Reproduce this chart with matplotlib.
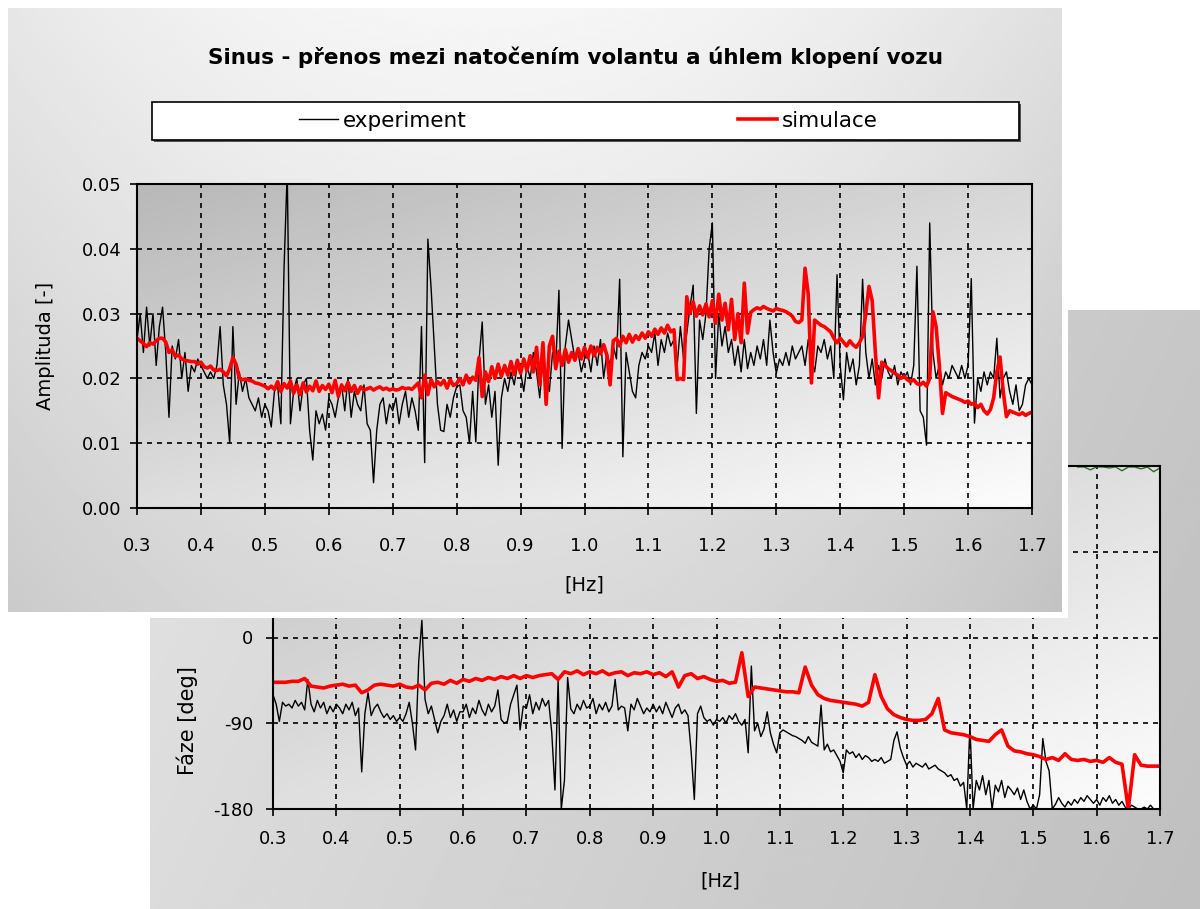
import numpy as np
import matplotlib.pyplot as plt
from matplotlib.patches import Rectangle

plt.rcParams['font.family'] = ['DejaVu Sans']

# frekvence (krok 0.005 Hz) a hodnoty
freq = np.round(0.3 + 0.005 * np.arange(281), 3)

amp_exp = [
    0.026, 0.030, 0.024, 0.031, 0.025, 0.030, 0.022, 0.028, 0.031, 0.024, 0.014, 0.025, 0.023, 0.026, 0.020, 0.024, 0.018, 0.022, 0.021, 0.023,
    0.022, 0.021, 0.020, 0.021, 0.020, 0.022, 0.028, 0.019, 0.016, 0.010, 0.028, 0.016, 0.021, 0.018, 0.020, 0.017, 0.016, 0.015, 0.017, 0.014,
    0.016, 0.015, 0.0125, 0.018, 0.019, 0.013, 0.037, 0.052, 0.013, 0.018, 0.020, 0.015, 0.019, 0.020, 0.012, 0.0074, 0.015, 0.013, 0.0145, 0.012,
    0.017, 0.016, 0.014, 0.017, 0.019, 0.015, 0.020, 0.014, 0.018, 0.016, 0.015, 0.019, 0.013, 0.012, 0.0039, 0.012, 0.016, 0.017, 0.013, 0.016,
    0.015, 0.017, 0.013, 0.016, 0.018, 0.014, 0.017, 0.015, 0.012, 0.028, 0.007, 0.0415, 0.034, 0.025, 0.016, 0.012, 0.0118, 0.016, 0.014, 0.017,
    0.0187, 0.019, 0.015, 0.014, 0.010, 0.018, 0.0102, 0.0228, 0.0287, 0.016, 0.019, 0.014, 0.018, 0.0066, 0.017, 0.020, 0.018, 0.021, 0.019, 0.022,
    0.021, 0.018, 0.022, 0.020, 0.024, 0.021, 0.017, 0.023, 0.020, 0.018, 0.024, 0.022, 0.0336, 0.0092, 0.025, 0.029, 0.026, 0.023, 0.024, 0.021,
    0.023, 0.024, 0.021, 0.025, 0.022, 0.026, 0.020, 0.024, 0.022, 0.025, 0.023, 0.0353, 0.0079, 0.024, 0.021, 0.018, 0.017, 0.022, 0.024, 0.023,
    0.025, 0.024, 0.027, 0.022, 0.026, 0.024, 0.027, 0.025, 0.026, 0.022, 0.028, 0.023, 0.027, 0.031, 0.0344, 0.0146, 0.029, 0.026, 0.030, 0.040,
    0.044, 0.020, 0.030, 0.025, 0.028, 0.024, 0.026, 0.022, 0.025, 0.021, 0.026, 0.0215, 0.024, 0.022, 0.025, 0.023, 0.026, 0.022, 0.029, 0.024,
    0.0208, 0.023, 0.022, 0.024, 0.022, 0.025, 0.023, 0.024, 0.025, 0.022, 0.026, 0.023, 0.021, 0.025, 0.024, 0.026, 0.023, 0.025, 0.020, 0.036,
    0.022, 0.0167, 0.024, 0.021, 0.023, 0.019, 0.022, 0.0353, 0.024, 0.020, 0.023, 0.019, 0.022, 0.020, 0.023, 0.021, 0.020, 0.022, 0.019, 0.021,
    0.020, 0.021, 0.019, 0.022, 0.0373, 0.015, 0.014, 0.0097, 0.044, 0.024, 0.020, 0.022, 0.019, 0.021, 0.020, 0.022, 0.021, 0.020, 0.022, 0.020,
    0.022, 0.0354, 0.0131, 0.020, 0.018, 0.021, 0.019, 0.021, 0.020, 0.0262, 0.017, 0.020, 0.021, 0.018, 0.016, 0.019, 0.015, 0.016, 0.019, 0.020, 0.019,
]

amp_sim = [
    .0262, .0258, .0254, .0249, .0255, .0253, .0258, .0262, .0262, .0256, .0240, .0244, .0234, .0236, .0230, .0228, .0227, .0226, .0226, .0222,
    .0225, .0218, .0216, .0219, .0213, .0212, .0214, .0210, .0204, .0215, .0232, .0222, .0200, .0198, .0199, .0197, .0196, .0193, .0192, .0190,
    .0188, .0184, .0188, .0183, .0195, .0180, .0192, .0185, .0196, .0177, .0190, .0175, .0193, .0179, .0188, .0181, .0196, .0180, .0189, .0183,
    .0191, .0178, .0197, .0172, .0190, .0181, .0194, .0180, .0189, .0177, .0187, .0182, .0184, .0186, .0182, .0185, .0187, .0183, .0185, .0182,
    .0184, .0182, .0183, .0186, .0184, .0185, .0183, .0188, .0193, .0170, .0205, .0175, .0198, .0187, .0195, .0190, .0197, .0185, .0198, .0189,
    .0192, .0200, .0190, .0205, .0193, .0202, .0197, .0232, .0172, .0210, .0195, .0218, .0200, .0222, .0203, .0220, .0205, .0226, .0206, .0228,
    .0208, .0230, .0212, .0235, .0210, .0248, .0190, .0255, .0160, .0250, .0265, .0215, .0242, .0220, .0245, .0225, .0240, .0228, .0246, .0230,
    .0248, .0232, .0250, .0235, .0248, .0238, .0252, .0236, .0190, .0258, .0262, .0250, .0265, .0255, .0268, .0256, .0266, .0260, .0270, .0262,
    .0272, .0265, .0276, .0268, .0278, .0270, .0282, .0272, .0275, .0198, .0200, .0198, .0326, .0300, .0318, .0296, .0312, .0298, .0315, .0295,
    .0320, .0285, .0330, .0290, .0316, .0275, .0322, .0260, .0300, .0255, .0347, .0270, .0302, .0306, .0309, .0307, .0311, .0308, .0306, .0304,
    .0308, .0306, .0305, .0303, .0300, .0296, .0288, .0286, .0290, .0370, .0330, .0193, .0290, .0286, .0282, .0280, .0276, .0272, .0262, .0255,
    .0262, .0256, .0250, .0258, .0252, .0248, .0255, .0265, .0300, .0342, .0320, .0240, .0170, .0225, .0220, .0215, .0212, .0208, .0205, .0200,
    .0203, .0198, .0195, .0198, .0192, .0190, .0194, .0188, .0200, .0303, .0280, .0220, .0146, .0178, .0175, .0172, .0170, .0168, .0166, .0163,
    .0165, .0160, .0162, .0155, .0160, .0150, .0145, .0152, .0170, .0210, .0233, .0180, .0141, .0150, .0148, .0146, .0144, .0147, .0143, .0146, .0148,
]

phase_exp = [
    -60, -70, -88, -68, -72, -70, -74, -66, -72, -68, -76, -44, -70, -78, -66, -74, -68, -80, -72, -78,
    -70, -74, -80, -70, -76, -68, -82, -74, -141, -80, -58, -82, -74, -70, -78, -84, -80, -86, -82, -88,
    -84, -88, -80, -68, -90, -118, -25, 18, -65, -80, -72, -86, -100, -88, -82, -70, -84, -76, -88, -78,
    -78, -70, -84, -74, -80, -66, -76, -82, -70, -78, -72, -55, -86, -90, -88, -70, -60, -50, -97, -72,
    -74, -60, -80, -68, -76, -64, -72, -66, -100, -160, -45, -180, -150, -42, -75, -80, -70, -76, -66, -74,
    -72, -64, -80, -70, -76, -68, -78, -72, -44, -76, -72, -74, -98, -70, -76, -64, -72, -80, -74, -78,
    -70, -78, -72, -80, -68, -76, -84, -74, -70, -80, -76, -82, -120, -170, -80, -72, -84, -88, -86, -92,
    -86, -88, -84, -90, -82, -86, -80, -88, -92, -86, -121, -30, -98, -90, -104, -96, -78, -100, -112, -121,
    -100, -97, -99, -101, -103, -104, -106, -108, -111, -104, -110, -112, -114, -71, -118, -112, -120, -118, -124, -130,
    -142, -118, -122, -120, -126, -122, -128, -124, -126, -130, -128, -130, -126, -132, -130, -128, -108, -99, -116, -126,
    -134, -130, -136, -132, -134, -136, -132, -138, -136, -134, -138, -140, -142, -146, -144, -150, -148, -156, -152, -180,
    -92, -180, -150, -160, -145, -165, -150, -180, -155, -162, -150, -168, -156, -160, -165, -158, -170, -160, -172, -180,
    -176, -180, -165, -106, -130, -140, -180, -175, -168, -174, -178, -172, -176, -170, -174, -168, -172, -166, -170, -174,
    -170, -176, -168, -172, -166, -174, -170, -176, -172, -178, -180, -176, -178, -180, -180, -178, -180, -176, -180, -180, -180,
]

# simulace fáze (krok 0.01 Hz)
freq_ph_sim = np.round(0.3 + 0.01 * np.arange(141), 2)
phase_sim = [
    -47, -47, -47, -46, -46, -43, -51, -52, -53, -51,
    -50, -49, -51, -50, -58, -55, -50, -49, -50, -51,
    -49, -52, -53, -50, -55, -48, -47, -49, -45, -48,
    -44, -46, -43, -45, -42, -44, -41, -43, -40, -43,
    -40, -42, -40, -39, -38, -44, -36, -38, -35, -39,
    -36, -38, -35, -39, -37, -36, -40, -37, -38, -36,
    -39, -37, -41, -36, -52, -40, -38, -43, -41, -44,
    -46, -45, -48, -47, -16, -62, -52, -53, -54, -55,
    -56, -57, -57, -58, -31, -50, -60, -64, -66, -67,
    -68, -69, -70, -72, -68, -39, -62, -75, -81, -84,
    -86, -87, -87, -86, -80, -64, -97, -100, -101, -102,
    -104, -107, -108, -109, -102, -97, -114, -119, -120, -122,
    -123, -125, -128, -126, -129, -122, -128, -129, -128, -130,
    -129, -131, -126, -131, -133, -180, -123, -134, -135, -135, -135,
]

# zelená řada u horního okraje (viditelná jen vpravo)
freq_green = [1.57, 1.58, 1.59, 1.60, 1.61, 1.62, 1.63, 1.64, 1.65, 1.66, 1.67, 1.68, 1.69, 1.70]
phase_green = [179, 179, 176, 179, 179, 178, 179, 175, 179, 179, 177, 179, 174, 178]

assert len(amp_exp) == len(freq) == len(amp_sim) == len(phase_exp)
assert len(phase_sim) == len(freq_ph_sim)

W, H = 1200, 909
fig = plt.figure(figsize=(12, 9.09), dpi=100, facecolor='white')


def box(x0, y0, x1, y1):
    return [x0 / W, 1 - y1 / H, (x1 - x0) / W, (y1 - y0) / H]


def gradient(rect, fn, z):
    bg = fig.add_axes(rect, zorder=z)
    u, w = np.meshgrid(np.linspace(0, 1, 300), np.linspace(0, 1, 300))
    bg.imshow(fn(u, w), cmap='gray', vmin=0, vmax=1, aspect='auto',
              extent=[0, 1, 0, 1], origin='upper', interpolation='bilinear')
    bg.axis('off')
    return bg


grid_kw = dict(color='black', linestyle=(0, (3, 3)), linewidth=1.2)

# ---- zadní graf: fáze ----
gradient(box(150, 310, 1200, 909), lambda u, w: 0.89 - 0.11 * u - 0.03 * w, 1)
gradient(box(273, 466, 1160, 809), lambda u, w: 0.76 + 0.23 * (0.5 * u + 0.5 * w), 2)
ax_p = fig.add_axes(box(273, 466, 1160, 809), zorder=3)
ax_p.set_facecolor('none')
ax_p.plot(freq_green, phase_green, color='#2e6b2e', lw=1.0)
ax_p.plot(freq, phase_exp, color='black', lw=1.0)
ax_p.plot(freq_ph_sim, phase_sim, color='#ff0000', lw=2.6)
ax_p.set_xlim(0.3, 1.7)
ax_p.set_ylim(-180, 180)
ax_p.set_xticks(np.round(np.arange(0.3, 1.71, 0.1), 1))
ax_p.set_xticklabels([f'{t:.1f}' for t in np.arange(0.3, 1.71, 0.1)])
ax_p.set_yticks([-180, -90, 0, 90, 180])
ax_p.set_yticklabels(['-180', '-90', '0', '90', '180'])
ax_p.grid(True, **grid_kw)
ax_p.tick_params(direction='out', length=5, width=1.2, labelsize=13)
ax_p.tick_params(axis='x', pad=10)
ax_p.tick_params(axis='y', pad=9)
for s in ax_p.spines.values():
    s.set_linewidth(1.5)
ax_p.set_xlabel('[Hz]', fontsize=14)
ax_p.xaxis.set_label_coords(0.504, -0.181)
ax_p.set_ylabel('Fáze [deg]', fontsize=15)
ax_p.yaxis.set_label_coords(-0.085, 0.259)

# ---- přední graf: amplituda ----
front_border = fig.add_axes(box(8, 8, 1068, 618), zorder=4)
front_border.set_facecolor('white')
front_border.set_xticks([])
front_border.set_yticks([])
for s in front_border.spines.values():
    s.set_visible(False)
gradient(box(8, 8, 1062, 612),
         lambda u, w: 0.965 - 0.09 * ((u - 0.45) / 0.55) ** 2 - 0.11 * w, 5)
gradient(box(137, 184, 1032, 508), lambda u, w: 0.72 + 0.27 * (0.45 * u + 0.55 * w), 6)

ax_a = fig.add_axes(box(137, 184, 1032, 508), zorder=7)
ax_a.set_facecolor('none')
l_exp, = ax_a.plot(freq, amp_exp, color='black', lw=1.0, label='experiment')
l_sim, = ax_a.plot(freq, amp_sim, color='#ff0000', lw=2.6, label='simulace')
ax_a.set_xlim(0.3, 1.7)
ax_a.set_ylim(0, 0.05)
ax_a.set_xticks(np.round(np.arange(0.3, 1.71, 0.1), 1))
ax_a.set_xticklabels([f'{t:.1f}' for t in np.arange(0.3, 1.71, 0.1)])
ax_a.set_yticks(np.round(np.arange(0, 0.051, 0.01), 2))
ax_a.set_yticklabels([f'{t:.2f}' for t in np.arange(0, 0.051, 0.01)])
ax_a.grid(True, **grid_kw)
ax_a.tick_params(direction='out', length=5, width=1.2, labelsize=13)
ax_a.tick_params(axis='x', pad=16)
ax_a.tick_params(axis='y', pad=6)
for s in ax_a.spines.values():
    s.set_linewidth(1.5)
ax_a.set_xlabel('[Hz]', fontsize=14)
ax_a.xaxis.set_label_coords(0.5, -0.207)
ax_a.set_ylabel('Amplituda [-]', fontsize=14)
ax_a.yaxis.set_label_coords(-0.092, 0.5)

fig.text(0.48, 1 - 57 / H, 'Sinus - přenos mezi natočením volantu a úhlem klopení vozu',
         ha='center', va='center', fontsize=15.5, fontweight='bold', zorder=10)

# rámeček legendy se stínem
fig.add_artist(Rectangle((154 / W, 1 - 142 / H), 867 / W, 38 / H, transform=fig.transFigure,
                         facecolor='#555555', edgecolor='none', zorder=8))
fig.add_artist(Rectangle((152 / W, 1 - 140 / H), 867 / W, 38 / H, transform=fig.transFigure,
                         facecolor='white', edgecolor='black', lw=1.2, zorder=9))
leg = fig.legend(handles=[l_exp, l_sim], loc='center', bbox_to_anchor=(0.4904, 1 - 121 / H),
                 ncol=2, frameon=False, fontsize=15.5, handlelength=1.8, handletextpad=0.25,
                 columnspacing=12.6)
leg.set_zorder(10)

plt.savefig('out.png', dpi=100, facecolor='white')
plt.close()
